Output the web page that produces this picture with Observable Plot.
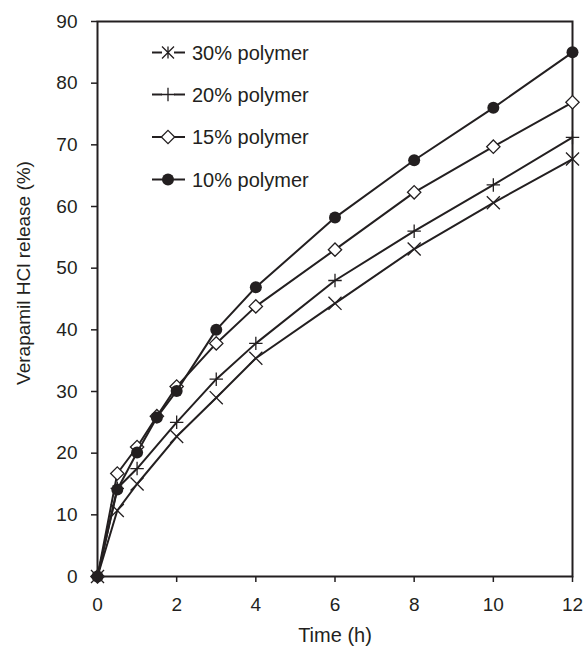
<!DOCTYPE html>
<html><head><meta charset="utf-8">
<script src="https://cdn.jsdelivr.net/npm/d3@7"></script>
<script src="https://cdn.jsdelivr.net/npm/@observablehq/plot@0.6"></script>
<style>body{margin:0;background:#fff;} #chart{position:relative;width:584px;height:647px;}</style>
</head><body><div id="chart"></div>
<script>
// Time points (h)
const timeFull = [0, 0.5, 1, 1.5, 2, 3, 4, 6, 8, 10, 12];
const timeShort = [0, 0.5, 1, 2, 3, 4, 6, 8, 10, 12];
// Release (%) per formulation
const release10 = [0, 14.1, 20.1, 25.8, 30.1, 40.0, 46.9, 58.2, 67.5, 76.0, 85.0];
const release15 = [0, 16.7, 21.0, 26.0, 30.8, 37.8, 43.8, 53.0, 62.3, 69.7, 76.9];
const release20 = [0, 14.3, 17.5, 25.0, 32.0, 37.8, 48.0, 56.0, 63.5, 71.2];
const release30 = [0, 10.7, 15.0, 22.7, 29.0, 35.4, 44.3, 53.1, 60.6, 67.7];
const seriesNames = ["30% polymer", "20% polymer", "15% polymer", "10% polymer"];
const xTicks = [0, 2, 4, 6, 8, 10, 12];
const yTicks = [0, 10, 20, 30, 40, 50, 60, 70, 80, 90];
const xTitle = "Time (h)";
const yTitle = "Verapamil HCl release (%)";

const ink = "#231f20";
const font = "'Liberation Sans', Arial, Helvetica, sans-serif";
const rows = (t, v, name) => t.map((x, i) => ({time: x, release: v[i], series: name}));
const seriesData = [
  rows(timeShort, release30, seriesNames[0]),
  rows(timeShort, release20, seriesNames[1]),
  rows(timeFull, release15, seriesNames[2]),
  rows(timeFull, release10, seriesNames[3])
];
const sym = [
  {symbol: "times", r: 6, fill: "none", stroke: ink, sw: 1.3},
  {symbol: "plus", r: 4.4, fill: "none", stroke: ink, sw: 1.3},
  {symbol: "diamond2", r: 6, fill: "#fff", stroke: ink, sw: 1.3},
  {symbol: "circle", r: 6, fill: ink, stroke: "none", sw: 0}
];

const marks = [Plot.frame({stroke: ink, strokeWidth: 2})];
seriesData.forEach((d, i) => {
  marks.push(Plot.line(d, {x: "time", y: "release", stroke: ink, strokeWidth: 2}));
  marks.push(Plot.dot(d, {x: "time", y: "release", symbol: () => sym[i].symbol, r: sym[i].r,
    fill: sym[i].fill, stroke: sym[i].stroke, strokeWidth: sym[i].sw}));
});
marks.push(Plot.axisX({ticks: xTicks, tickSize: 6, tickPadding: 15, strokeWidth: 1.5, label: null}));
marks.push(Plot.axisY({ticks: yTicks, tickSize: 6, tickPadding: 14, strokeWidth: 1.5, label: null}));

const svg = Plot.plot({
  width: 584, height: 647,
  marginLeft: 97, marginRight: 12, marginTop: 21, marginBottom: 71,
  x: {domain: [0, 12]},
  y: {domain: [0, 90]},
  symbol: {type: "identity"},
  style: {fontFamily: font, fontSize: "19px", color: ink, background: "#fff", overflow: "visible"},
  marks
});

const s = d3.select(svg);
s.append("text").attr("transform", "translate(23,273) rotate(-90)")
  .attr("text-anchor", "middle").attr("dy", "0.35em")
  .attr("font-size", 19).attr("fill", ink).text(yTitle);
s.append("text").attr("x", 335).attr("y", 635)
  .attr("text-anchor", "middle").attr("dy", "0.35em")
  .attr("font-size", 20).attr("fill", ink).text(xTitle);

// Legend
const leg = s.append("g").attr("font-size", 20).attr("fill", ink).attr("text-anchor", "start");
const legY = [52.5, 94.5, 137, 179.5];
const legSym = [
  "M-6,-6L6,6M-6,6L6,-6M0,-6L0,6",
  d3.symbol(d3.symbolPlus, Math.PI * 4.4 * 4.4)(),
  d3.symbol(d3.symbolDiamond2, Math.PI * 36)(),
  d3.symbol(d3.symbolCircle, Math.PI * 36)()
];
seriesNames.forEach((name, i) => {
  const g = leg.append("g").attr("transform", `translate(168,${legY[i]})`);
  if (i < 2) {
    g.append("line").attr("x1", -16).attr("x2", -6).attr("stroke", ink).attr("stroke-width", 2);
    g.append("line").attr("x1", 6).attr("x2", 17).attr("stroke", ink).attr("stroke-width", 2);
  } else {
    g.append("line").attr("x1", -16).attr("x2", 17).attr("stroke", ink).attr("stroke-width", 2);
  }
  g.append("path").attr("d", legSym[i]).attr("fill", sym[i].fill)
    .attr("stroke", sym[i].stroke).attr("stroke-width", sym[i].sw);
  leg.append("text").attr("x", 192).attr("y", legY[i]).attr("dy", "0.35em")
    .attr("text-anchor", "start").text(name);
});

document.getElementById("chart").appendChild(svg);
</script>
</body></html>
